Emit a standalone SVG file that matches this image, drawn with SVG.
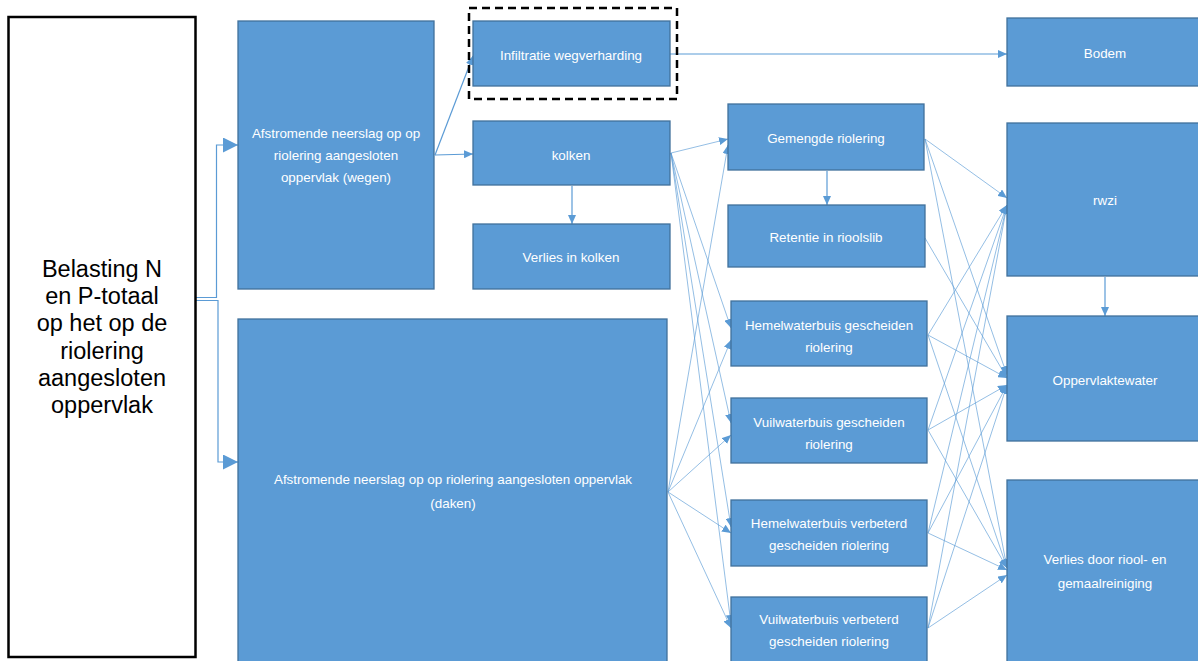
<svg xmlns="http://www.w3.org/2000/svg" width="1198" height="661" viewBox="0 0 1198 661">
<style>
.n{fill:#5b9bd5;stroke:#41719c;stroke-width:1.3}
.t{font-family:"Liberation Sans",Arial,sans-serif;font-size:13.4px;fill:#ffffff;text-anchor:middle}
.bt{font-family:"Liberation Sans",Arial,sans-serif;font-size:23.5px;fill:#000000;text-anchor:middle}
.c{fill:none;stroke:#5b9bd5;stroke-width:1.2}
.f{fill:none;stroke:#5b9bd5;stroke-width:1;stroke-opacity:0.65}
</style>
<defs>
<marker id="a" markerUnits="userSpaceOnUse" markerWidth="9" markerHeight="8" refX="9" refY="4" orient="auto"><path d="M0,0 L9,4 L0,8 z" fill="#5b9bd5"/></marker>
<marker id="b" markerUnits="userSpaceOnUse" markerWidth="15" markerHeight="15" refX="15" refY="7.5" orient="auto"><path d="M0,0 L15,7.5 L0,15 z" fill="#5b9bd5"/></marker>
</defs>
<rect width="1198" height="661" fill="#ffffff"/>
<g id="connectors">
<path class="c" d="M195,297.5 H216.5 V145 H238" marker-end="url(#b)"/>
<path class="c" d="M195,300.5 H218 V462 H238" marker-end="url(#b)"/>
<path class="c" d="M435,155 L473,56" marker-end="url(#a)"/>
<path class="c" d="M435,155 L473,154" marker-end="url(#a)"/>
<path class="c" d="M670,54 L1007,54" marker-end="url(#a)"/>
<path class="c" d="M572,186 L572,224" marker-end="url(#a)"/>
<path class="c" d="M827,171 L827,205" marker-end="url(#a)"/>
<path class="c" d="M1105,277 L1105,316" marker-end="url(#a)"/>
<path class="f" d="M671,153 L728,139" marker-end="url(#a)"/>
<path class="f" d="M671,153 L731,328" marker-end="url(#a)"/>
<path class="f" d="M671,153 L731,423" marker-end="url(#a)"/>
<path class="f" d="M671,153 L731,527" marker-end="url(#a)"/>
<path class="f" d="M671,153 L731,624" marker-end="url(#a)"/>
<path class="f" d="M668,492 L728,145" marker-end="url(#a)"/>
<path class="f" d="M668,492 L731,340" marker-end="url(#a)"/>
<path class="f" d="M668,492 L731,435" marker-end="url(#a)"/>
<path class="f" d="M668,492 L731,533" marker-end="url(#a)"/>
<path class="f" d="M668,492 L731,628" marker-end="url(#a)"/>
<path class="f" d="M925,139 L1007,198" marker-end="url(#a)"/>
<path class="f" d="M925,139 L1007,375" marker-end="url(#a)"/>
<path class="f" d="M925,139 L1007,568" marker-end="url(#a)"/>
<path class="f" d="M925,238 L1007,378" marker-end="url(#a)"/>
<path class="f" d="M928,335 L1007,205" marker-end="url(#a)"/>
<path class="f" d="M928,335 L1007,378" marker-end="url(#a)"/>
<path class="f" d="M928,335 L1007,568" marker-end="url(#a)"/>
<path class="f" d="M928,430 L1007,205" marker-end="url(#a)"/>
<path class="f" d="M928,430 L1007,385" marker-end="url(#a)"/>
<path class="f" d="M928,430 L1007,568" marker-end="url(#a)"/>
<path class="f" d="M928,533 L1007,205" marker-end="url(#a)"/>
<path class="f" d="M928,533 L1007,385" marker-end="url(#a)"/>
<path class="f" d="M928,533 L1007,570" marker-end="url(#a)"/>
<path class="f" d="M928,628 L1007,205" marker-end="url(#a)"/>
<path class="f" d="M928,628 L1007,385" marker-end="url(#a)"/>
<path class="f" d="M928,628 L1007,575" marker-end="url(#a)"/>
</g>
<g id="belasting">
<rect x="8.5" y="17" width="187" height="640" fill="#ffffff" stroke="#000000" stroke-width="2.5"/>
<text class="bt" x="102" y="277">Belasting N</text>
<text class="bt" x="102" y="304">en P-totaal</text>
<text class="bt" x="102" y="331">op het op de</text>
<text class="bt" x="102" y="359">riolering</text>
<text class="bt" x="102" y="386">aangesloten</text>
<text class="bt" x="102" y="413">oppervlak</text>
</g>
<g id="wegen">
<rect class="n" x="238" y="21" width="196" height="268"/>
<text class="t" x="336" y="138">Afstromende neerslag op op</text>
<text class="t" x="336" y="160">riolering aangesloten</text>
<text class="t" x="336" y="182">oppervlak (wegen)</text>
</g>
<g id="infiltratie">
<rect x="469" y="8" width="208" height="91" fill="none" stroke="#000000" stroke-width="2.5" stroke-dasharray="8,5"/>
<rect class="n" x="473" y="21" width="197" height="65"/>
<text class="t" x="571" y="60">Infiltratie wegverharding</text>
</g>
<g id="kolken">
<rect class="n" x="473" y="121" width="197" height="64"/>
<text class="t" x="571" y="160">kolken</text>
</g>
<g id="verlies-kolken">
<rect class="n" x="473" y="224" width="197" height="65"/>
<text class="t" x="571" y="262">Verlies in kolken</text>
</g>
<g id="daken">
<rect class="n" x="238" y="319" width="429" height="345"/>
<text class="t" x="453" y="484">Afstromende neerslag op op riolering aangesloten oppervlak</text>
<text class="t" x="453" y="508">(daken)</text>
</g>
<g id="gemengd">
<rect class="n" x="728" y="104" width="196" height="66"/>
<text class="t" x="826" y="143">Gemengde riolering</text>
</g>
<g id="retentie">
<rect class="n" x="728" y="205" width="197" height="62"/>
<text class="t" x="826" y="242">Retentie in rioolslib</text>
</g>
<g id="hemel-gescheiden">
<rect class="n" x="731" y="301" width="196" height="65"/>
<text class="t" x="829" y="330">Hemelwaterbuis gescheiden</text>
<text class="t" x="829" y="352">riolering</text>
</g>
<g id="vuil-gescheiden">
<rect class="n" x="731" y="398" width="196" height="65"/>
<text class="t" x="829" y="427">Vuilwaterbuis gescheiden</text>
<text class="t" x="829" y="449">riolering</text>
</g>
<g id="hemel-verbeterd">
<rect class="n" x="731" y="500" width="196" height="66"/>
<text class="t" x="829" y="528">Hemelwaterbuis verbeterd</text>
<text class="t" x="829" y="550">gescheiden riolering</text>
</g>
<g id="vuil-verbeterd">
<rect class="n" x="731" y="597" width="196" height="67"/>
<text class="t" x="829" y="624">Vuilwaterbuis verbeterd</text>
<text class="t" x="829" y="646">gescheiden riolering</text>
</g>
<g id="bodem">
<rect class="n" x="1007" y="18" width="194" height="68"/>
<text class="t" x="1105" y="58">Bodem</text>
</g>
<g id="rwzi">
<rect class="n" x="1007" y="123" width="194" height="153"/>
<text class="t" x="1105" y="205">rwzi</text>
</g>
<g id="oppervlaktewater">
<rect class="n" x="1007" y="316" width="194" height="125"/>
<text class="t" x="1105" y="385">Oppervlaktewater</text>
</g>
<g id="verlies-reiniging">
<rect class="n" x="1007" y="480" width="194" height="184"/>
<text class="t" x="1105" y="564">Verlies door riool- en</text>
<text class="t" x="1105" y="588">gemaalreiniging</text>
</g>
</svg>
